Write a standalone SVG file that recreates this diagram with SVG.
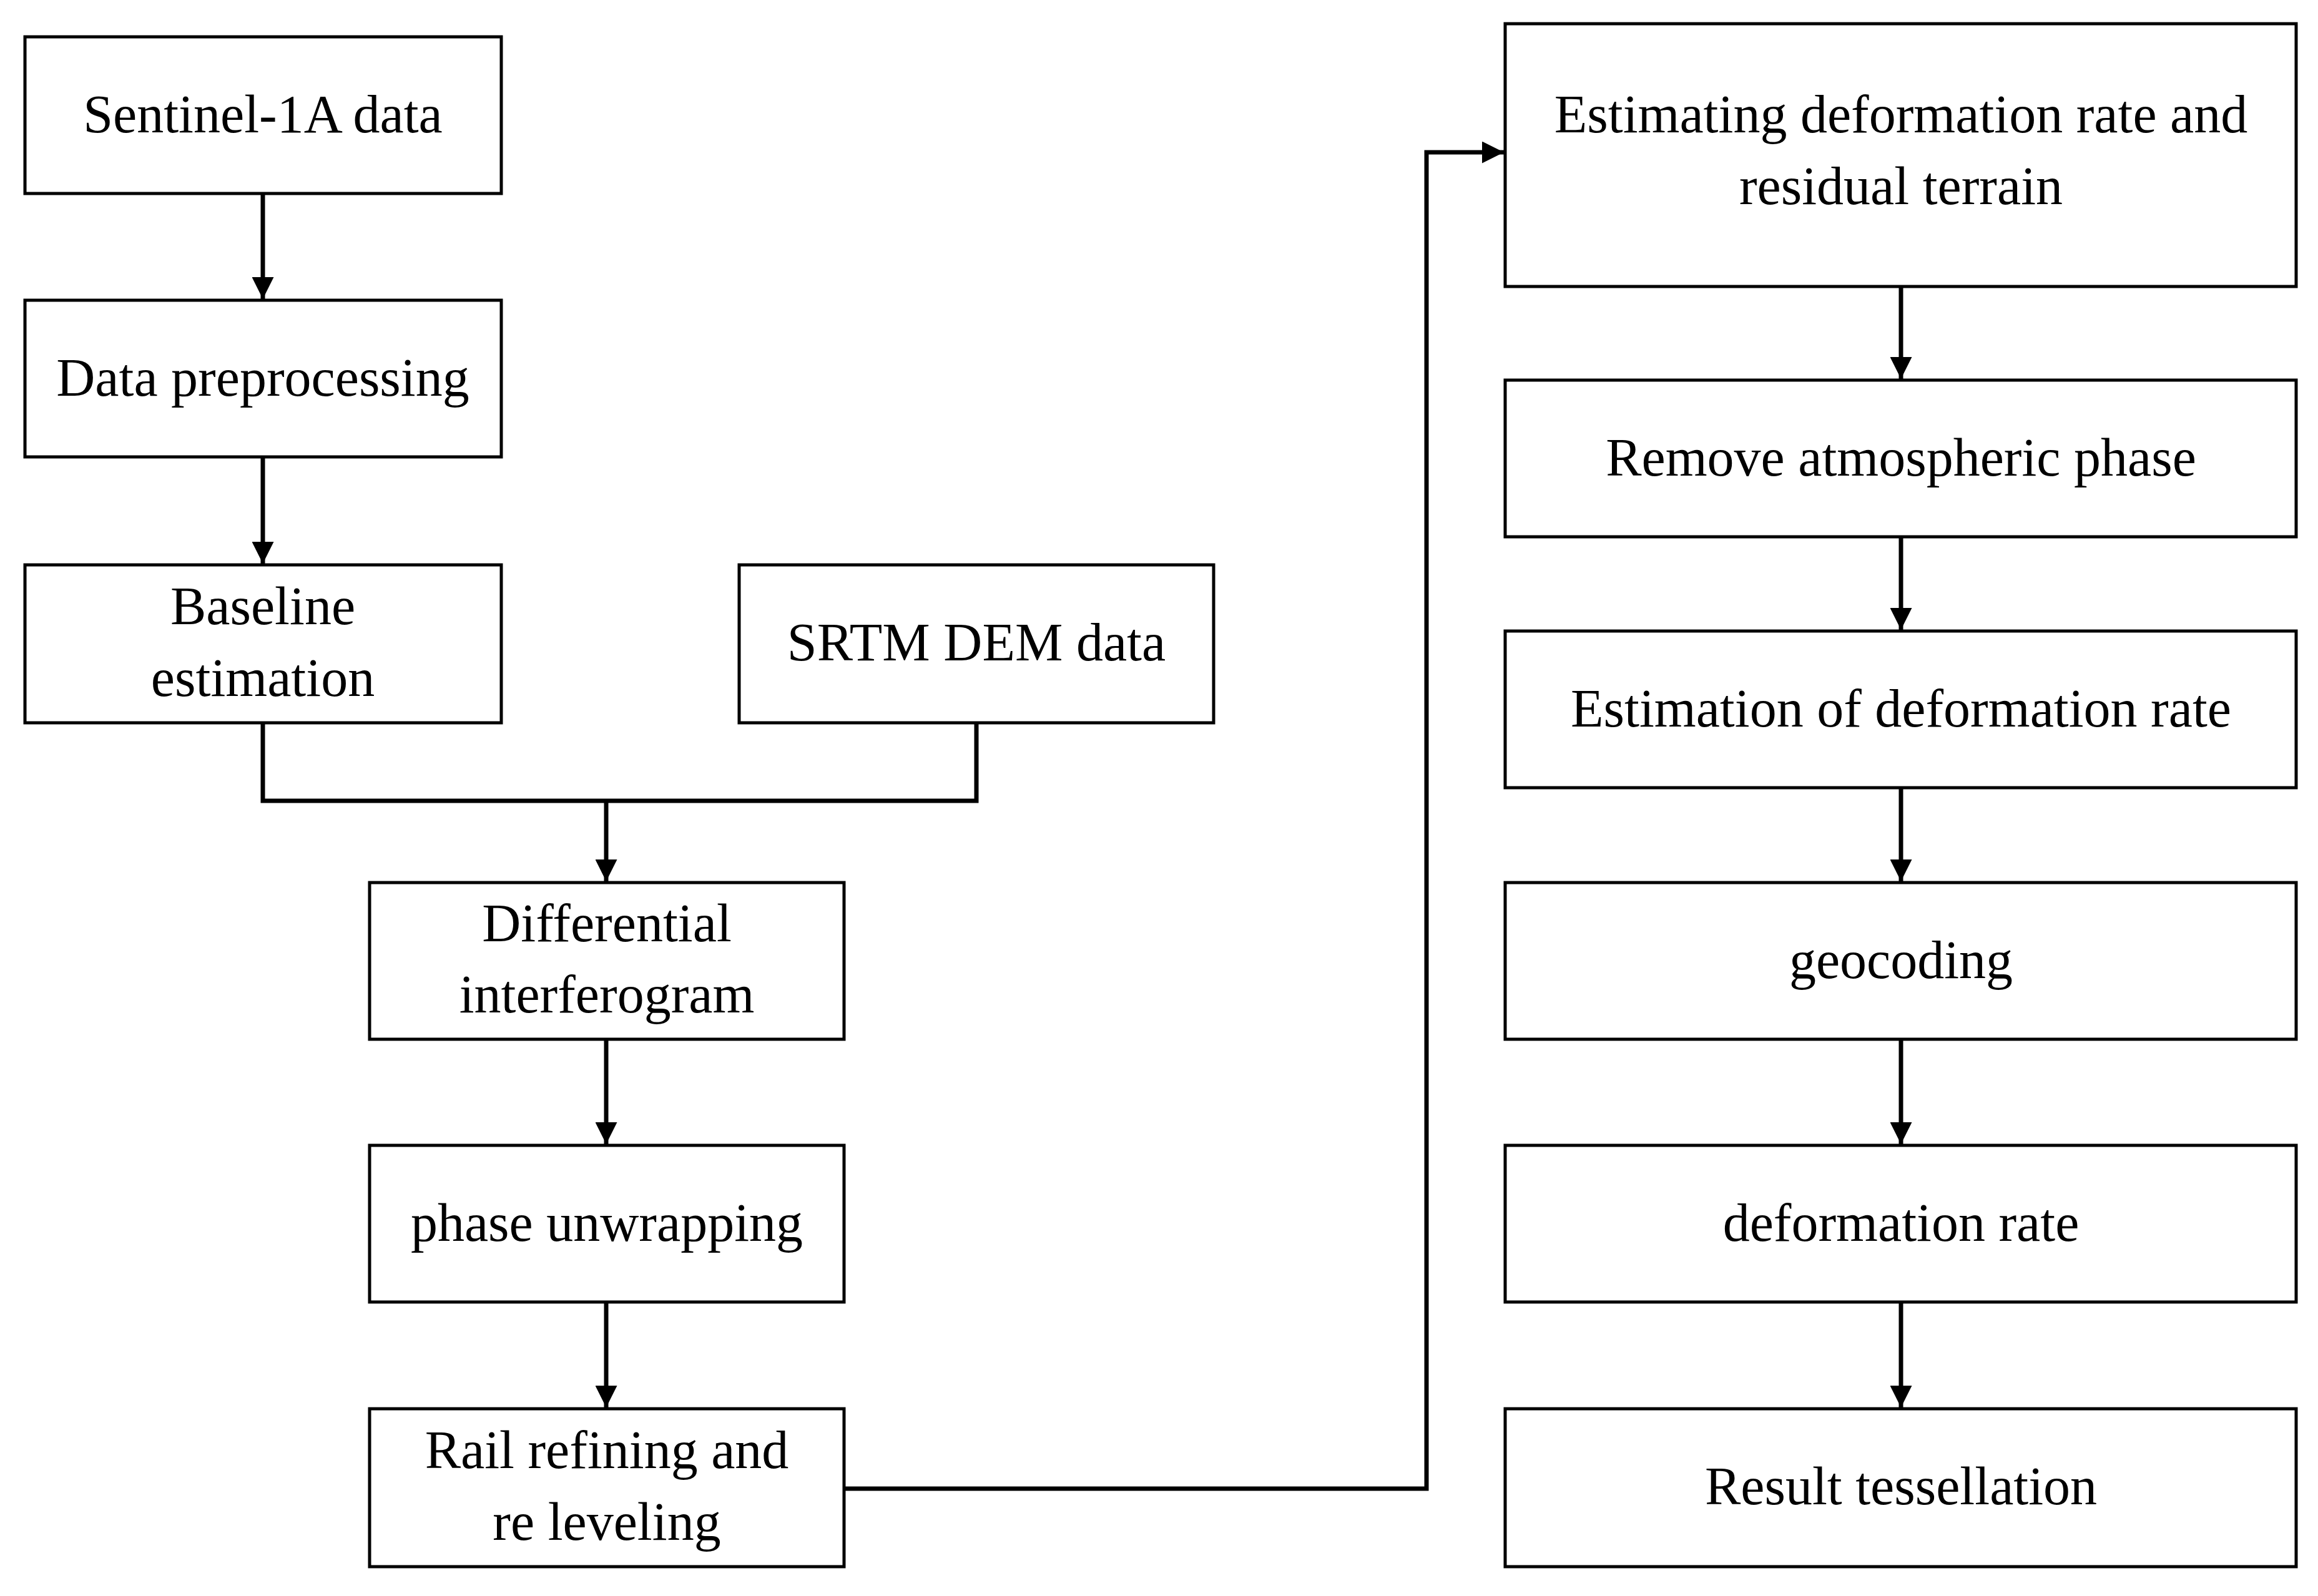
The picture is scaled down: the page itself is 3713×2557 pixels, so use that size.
<svg xmlns="http://www.w3.org/2000/svg" width="3713" height="2557" viewBox="0 0 3713 2557">
<style>
rect{fill:#fff;stroke:#000;stroke-width:5}
text{font-family:"Liberation Serif",serif;font-size:86px;text-anchor:middle;fill:#000}
.c path{fill:none;stroke:#000;stroke-width:7}
</style>
<defs><marker id="a" viewBox="0 0 10 10" refX="10" refY="5" markerWidth="5" markerHeight="5" orient="auto" markerUnits="strokeWidth"><path d="M0,0L10,5L0,10z" fill="#000"/></marker></defs>
<rect width="3713" height="2557" style="stroke:none"/>
<g id="n1"><rect x="40" y="59" width="763" height="251"/><text x="421" y="212">Sentinel-1A data</text></g>
<g id="n2"><rect x="40" y="481" width="763" height="251"/><text x="421" y="634">Data preprocessing</text></g>
<g id="n3"><rect x="40" y="905" width="763" height="253"/><text x="421" y="1000">Baseline</text><text x="421" y="1115">estimation</text></g>
<g id="n4"><rect x="1184" y="905" width="760" height="253"/><text x="1564" y="1058">SRTM DEM data</text></g>
<g id="n5"><rect x="592" y="1414" width="760" height="251"/><text x="972" y="1508">Differential</text><text x="972" y="1622">interferogram</text></g>
<g id="n6"><rect x="592" y="1835" width="760" height="251"/><text x="972" y="1988">phase unwrapping</text></g>
<g id="n7"><rect x="592" y="2257" width="760" height="253"/><text x="972" y="2352">Rail refining and</text><text x="972" y="2467">re leveling</text></g>
<g id="n8"><rect x="2411" y="38" width="1267" height="421"/><text x="3045" y="212">Estimating deformation rate and</text><text x="3045" y="327">residual terrain</text></g>
<g id="n9"><rect x="2411" y="609" width="1267" height="251"/><text x="3045" y="762">Remove atmospheric phase</text></g>
<g id="n10"><rect x="2411" y="1011" width="1267" height="251"/><text x="3045" y="1164">Estimation of deformation rate</text></g>
<g id="n11"><rect x="2411" y="1414" width="1267" height="251"/><text x="3045" y="1567">geocoding</text></g>
<g id="n12"><rect x="2411" y="1835" width="1267" height="251"/><text x="3045" y="1988">deformation rate</text></g>
<g id="n13"><rect x="2411" y="2257" width="1267" height="253"/><text x="3045" y="2410">Result tessellation</text></g>
<g class="c">
<path d="M421,310V479" marker-end="url(#a)"/>
<path d="M421,732V903" marker-end="url(#a)"/>
<path d="M421,1158V1283H1564V1158"/>
<path d="M971,1283V1412" marker-end="url(#a)"/>
<path d="M971,1665V1833" marker-end="url(#a)"/>
<path d="M971,2086V2255" marker-end="url(#a)"/>
<path d="M1352,2385H2285V244H2409" marker-end="url(#a)"/>
<path d="M3045,459V607" marker-end="url(#a)"/>
<path d="M3045,860V1009" marker-end="url(#a)"/>
<path d="M3045,1262V1412" marker-end="url(#a)"/>
<path d="M3045,1665V1833" marker-end="url(#a)"/>
<path d="M3045,2086V2255" marker-end="url(#a)"/>
</g>
</svg>
